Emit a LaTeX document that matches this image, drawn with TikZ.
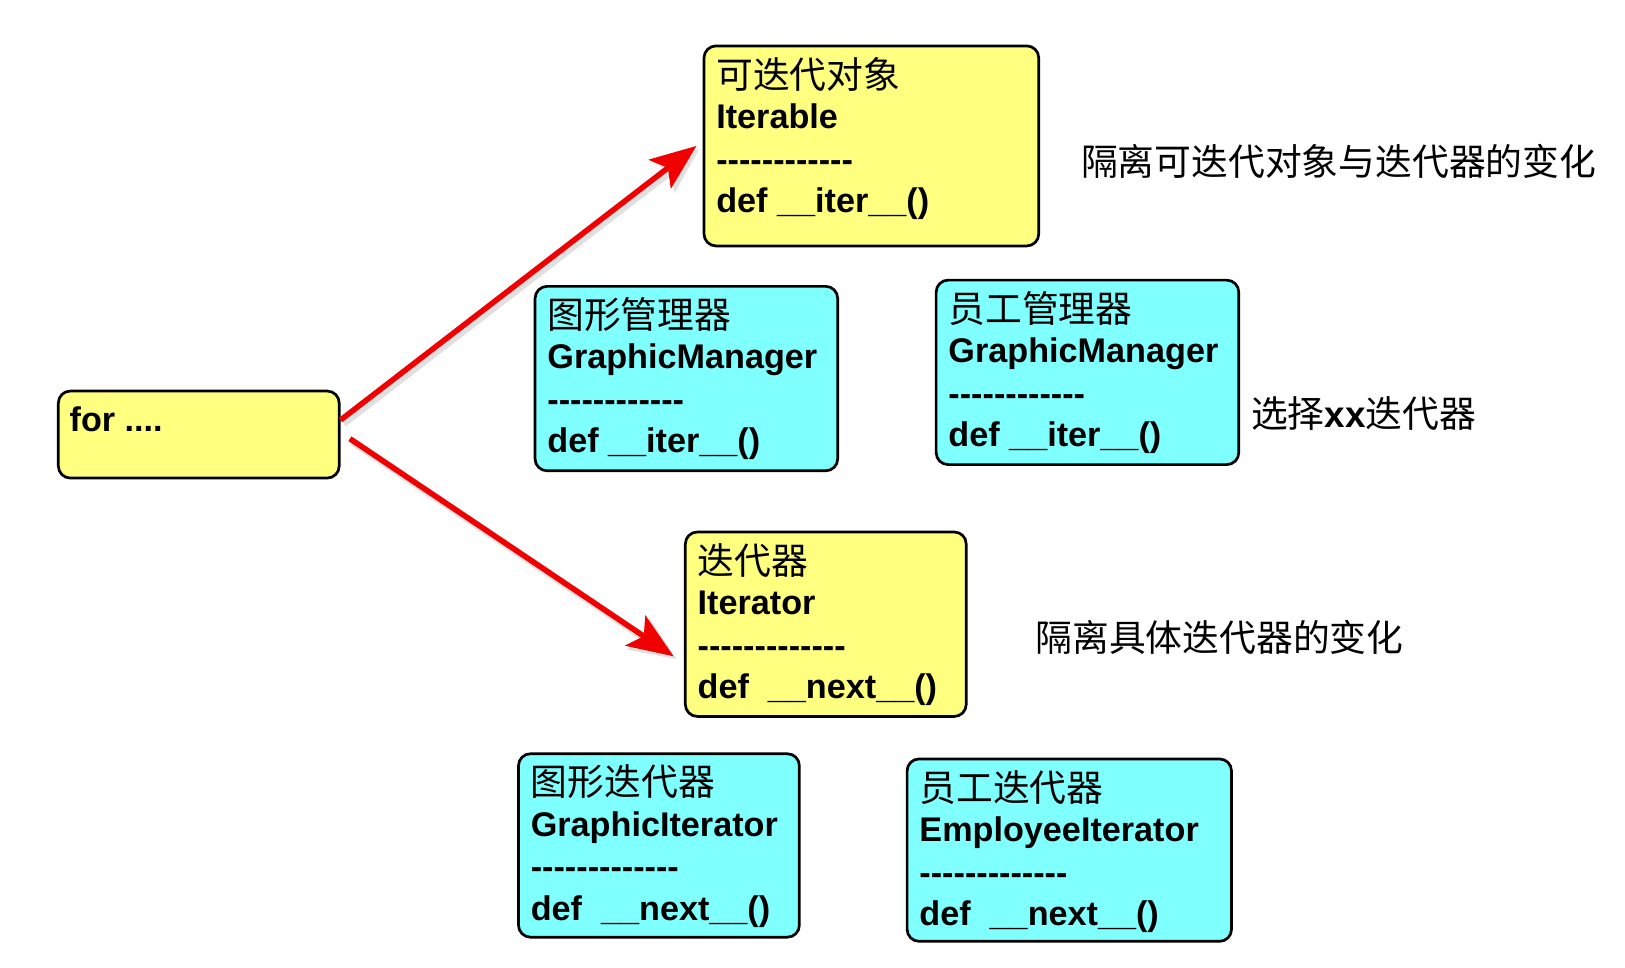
\documentclass[tikz,border=0pt]{standalone}
\usepackage{fontspec}
\setmainfont{Liberation Sans}
\newfontfamily\dashfont{Liberation Sans}
\newfontfamily\cjk{Noto Sans CJK SC}
\usetikzlibrary{arrows.meta}
\definecolor{boxyellow}{RGB}{255,255,128}
\definecolor{boxcyan}{RGB}{128,255,255}
\definecolor{arrowred}{RGB}{240,0,0}
\def\kscale{1.0364}
\tikzset{
  umlframe/.style={draw=black, line width=2.7pt, rounded corners=12pt, inner sep=0pt, fill=#1},
  latin/.style={inner sep=0pt, font=\fontsize{34.2}{40}\selectfont\bfseries},
  cjktext/.style={inner sep=0pt, font=\fontsize{36.8}{40}\selectfont\cjk},
  redarrow/.style={draw=arrowred, line width=5.5pt, -{Stealth[length=46pt,width=36pt,inset=10pt]}},
  arrowshadow/.style={draw=black!40, opacity=0.3, line width=8pt, -{Stealth[length=46pt,width=38pt,inset=10pt]}}
}
\newcommand\umlbox[9]{%
  \node[umlframe=#5, minimum width={#3*\kscale pt}, minimum height={#4*\kscale pt}, anchor=north west] (#1) at #2 {};
  \node[cjktext, anchor=base west] (#1-cn) at ([xshift={13*\kscale pt},yshift={-42*\kscale pt}]#1.north west) {#6};
  \node[latin, anchor=base west] (#1-en) at ([xshift={13*\kscale pt},yshift={-81*\kscale pt}]#1.north west) {#7};
  \node[latin, anchor=base west] (#1-sep) at ([xshift={13*\kscale pt},yshift={-122*\kscale pt}]#1.north west) {\dashfont\bfseries #8};
  \node[latin, anchor=base west] (#1-op) at ([xshift={13*\kscale pt},yshift={-162*\kscale pt}]#1.north west) {#9};
}
\begin{document}
\begin{tikzpicture}[x=\kscale pt,y=-\kscale pt]
\useasboundingbox[fill=white] (0,0) rectangle (1568,934);

% for box
\node[umlframe=boxyellow, minimum width={271*\kscale pt}, minimum height={84*\kscale pt}, anchor=north west] (for) at (55,376) {};
\node[latin, anchor=base west] (for-text) at ([xshift={12*\kscale pt},yshift={-40*\kscale pt}]for.north west) {for ....};

\umlbox{iter}{(678,43)}{323}{193}{boxyellow}{可迭代对象}{Iterable}{------------}{def \_\_iter\_\_()}
\umlbox{gm}{(515,275)}{292}{178}{boxcyan}{图形管理器}{GraphicManager}{------------}{def \_\_iter\_\_()}
\umlbox{em}{(902,269)}{292}{178}{boxcyan}{员工管理器}{GraphicManager}{------------}{def \_\_iter\_\_()}
\umlbox{itor}{(660,512)}{271}{178}{boxyellow}{迭代器}{Iterator}{-------------}{def\ \ \_\_next\_\_()}
\umlbox{gi}{(499,726)}{271}{177}{boxcyan}{图形迭代器}{GraphicIterator}{-------------}{def\ \ \_\_next\_\_()}
\umlbox{ei}{(874,731)}{313}{176}{boxcyan}{员工迭代器}{EmployeeIterator}{-------------}{def\ \ \_\_next\_\_()}

% annotations
\node[cjktext, anchor=west] (note1) at (1043,156) {隔离可迭代对象与迭代器的变化};
\node[cjktext, anchor=west] (note2) at (1207,399) {选择{\fontspec{Liberation Sans}\bfseries xx}迭代器};
\node[cjktext, anchor=west] (note3) at (999,615) {隔离具体迭代器的变化};

% arrows with soft shadows
\coordinate (a1s) at ([yshift={14*\kscale pt}]for.east);
\coordinate (a1e) at ([xshift={-6*\kscale pt}]iter.west);
\coordinate (a2s) at ([xshift={9*\kscale pt},yshift={-4*\kscale pt}]for.east);
\coordinate (a2e) at ([xshift={-10*\kscale pt},yshift={-31*\kscale pt}]itor.west);
\draw[arrowshadow] ([shift={(3pt,-3pt)}]a1s) -- ([shift={(3pt,-3pt)}]a1e);
\draw[arrowshadow] ([shift={(3pt,-3pt)}]a2s) -- ([shift={(3pt,-3pt)}]a2e);
\draw[redarrow] (a1s) -- (a1e);
\draw[redarrow] (a2s) -- (a2e);
\end{tikzpicture}
\end{document}
